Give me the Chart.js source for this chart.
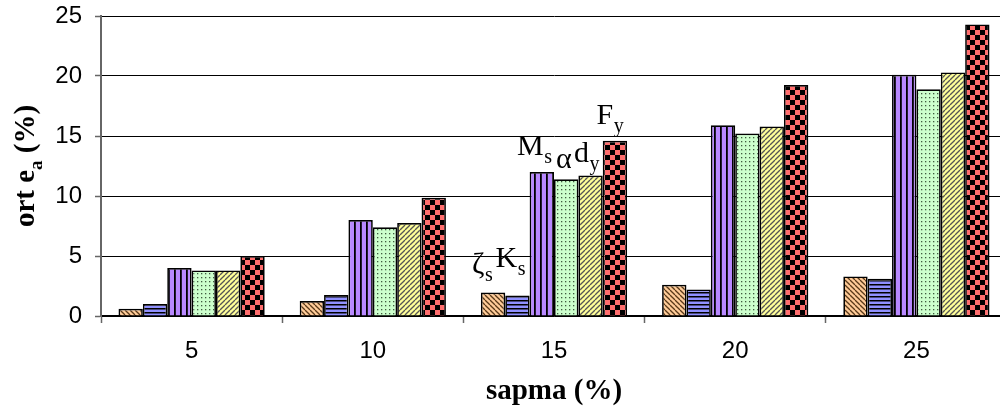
<!DOCTYPE html>
<html>
<head>
<meta charset="utf-8">
<script src="https://cdn.jsdelivr.net/npm/chart.js@4.4.1/dist/chart.umd.min.js"></script>
<style>
  html, body { margin: 0; padding: 0; background: #fff; overflow: hidden; }
  #wrap { width: 1008px; height: 414px; position: relative; }
</style>
</head>
<body>
<div id="wrap"><canvas id="c"></canvas></div>
<script>
// ---- data ----
const categories = ['5', '10', '15', '20', '25'];
const seriesNames = ['ζs', 'Ks', 'Ms', 'α', 'dy', 'Fy'];
const zetaS = [0.6, 1.25, 1.95, 2.6, 3.3];
const kS    = [1.0, 1.75, 1.7, 2.2, 3.1];
const mS    = [4.0, 8.0, 12.0, 15.9, 20.1];
const alpha = [3.8, 7.4, 11.4, 15.2, 18.9];
const dY    = [3.8, 7.75, 11.7, 15.8, 20.3];
const fY    = [5.0, 9.85, 14.6, 19.25, 24.3];
const yTicks = [0, 5, 10, 15, 20, 25];

// annotation labels near the 15 % group: main text, subscript, category, dx from category centre (px), y value of baseline
const noteMain = ['ζ', 'K', 'M', 'α', 'd', 'F'];
const noteSub  = ['s', 's', 's', '', 'y', 'y'];
const noteCat  = ['15', '15', '15', '15', '15', '15'];
const noteDx   = [-82, -58.5, -37, 2, 20, 42.5];
const noteY    = [3.58, 4.08, 13.42, 12.3, 12.83, 16.0];

// ---- patterns ----
function tile(size, bg, draw) {
  const c = document.createElement('canvas');
  c.width = size; c.height = size;
  const g = c.getContext('2d');
  g.fillStyle = bg; g.fillRect(0, 0, size, size);
  draw(g, size);
  return g.createPattern(c, 'repeat');
}
function diag(g, s, color, dir) {
  g.strokeStyle = color; g.lineWidth = 1.3;
  for (let k = -s; k <= s; k += s) {
    g.beginPath();
    if (dir > 0) { g.moveTo(k, s); g.lineTo(k + s, 0); }
    else { g.moveTo(k, 0); g.lineTo(k + s, s); }
    g.stroke();
  }
}
const patterns = [
  tile(5, '#FFCC99', (g, s) => diag(g, s, '#5a3a1a', -1)),
  tile(4, '#9090FF', (g, s) => { g.fillStyle = '#000'; g.fillRect(0, 0, s, 1.5); }),
  tile(6, '#B888FF', (g, s) => { g.fillStyle = '#000'; g.fillRect(0, 0, 1.8, s); }),
  tile(4, '#CCFFCC', (g, s) => { g.fillStyle = '#3f5a3f'; g.fillRect(1, 1, 1.3, 1.3); }),
  tile(5, '#FFFF99', (g, s) => diag(g, s, '#555', 1)),
  tile(10, '#FF6E6E', (g, s) => { g.fillStyle = '#000'; g.fillRect(0, 0, 5, 5); g.fillRect(5, 5, 5, 5); })
];

const seriesValues = [zetaS, kS, mS, alpha, dY, fY];

const notesPlugin = {
  id: 'notes',
  afterDatasetsDraw(chart) {
    const ctx = chart.ctx, xs = chart.scales.x, ys = chart.scales.y;
    ctx.save();
    ctx.fillStyle = '#000';
    ctx.textBaseline = 'alphabetic';
    ctx.textAlign = 'left';
    for (let i = 0; i < noteMain.length; i++) {
      const x = xs.getPixelForValue(categories.indexOf(noteCat[i])) + noteDx[i];
      const y = ys.getPixelForValue(noteY[i]);
      ctx.font = '30px "Liberation Serif", "Times New Roman", serif';
      ctx.fillText(noteMain[i], x, y);
      const w = ctx.measureText(noteMain[i]).width;
      if (noteSub[i]) {
        ctx.font = '20px "Liberation Serif", "Times New Roman", serif';
        ctx.fillText(noteSub[i], x + w + 0.5, y + 8);
      }
    }
    ctx.restore();
  }
};

const yTitlePlugin = {
  id: 'ytitle',
  afterDraw(chart) {
    const ctx = chart.ctx, ca = chart.chartArea;
    const parts = [['ort e', 29, 0], ['a', 19, 7], [' (%)', 29, 0]];
    ctx.save();
    let total = 0;
    parts.forEach(p => { ctx.font = 'bold ' + p[1] + 'px "Liberation Serif", serif'; p.push(ctx.measureText(p[0]).width); total += p[3]; });
    ctx.translate(27, (ca.top + ca.bottom) / 2);
    ctx.rotate(-Math.PI / 2);
    ctx.fillStyle = '#000';
    ctx.textBaseline = 'middle';
    ctx.textAlign = 'left';
    let x = -total / 2;
    parts.forEach(p => {
      ctx.font = 'bold ' + p[1] + 'px "Liberation Serif", serif';
      ctx.fillText(p[0], x, p[2] + (p[1] < 29 ? 3 : 0));
      x += p[3];
    });
    ctx.restore();
  }
};

new Chart(document.getElementById('c'), {
  type: 'bar',
  data: {
    labels: categories,
    datasets: seriesValues.map((vals, i) => ({
      label: seriesNames[i],
      data: vals,
      backgroundColor: patterns[i],
      borderColor: '#000',
      borderWidth: 1.7,
      categoryPercentage: 0.807,
      barPercentage: 1.0
    }))
  },
  options: {
    responsive: true,
    maintainAspectRatio: false,
    animation: false,
    layout: { padding: { top: 16, right: 1, left: 0, bottom: 0 } },
    plugins: { legend: { display: false }, tooltip: { enabled: false } },
    scales: {
      x: {
        offset: true,
        grid: { display: true, offset: true, drawOnChartArea: false, drawTicks: true, tickLength: 7, tickColor: '#666', tickWidth: 1.5 },
        border: { display: true, color: '#000', width: 1.5 },
        ticks: { color: '#000', font: { family: '"Liberation Sans", Arial, sans-serif', size: 24 }, padding: 14 },
        title: { display: true, text: 'sapma (%)', color: '#000', font: { family: '"Liberation Serif", "Times New Roman", serif', size: 29, weight: 'bold' }, padding: { top: 0, bottom: 5 } },
        afterFit: s => { s.height = 98; s.paddingLeft = 0; s.paddingRight = 0; }
      },
      y: {
        min: 0, max: 25,
        afterBuildTicks: s => { s.ticks = yTicks.map(v => ({ value: v })); },
        grid: { color: '#000', lineWidth: 1, tickLength: 6, tickColor: '#666', tickWidth: 1.5 },
        border: { display: true, color: '#666', width: 2 },
        ticks: { color: '#000', font: { family: '"Liberation Sans", Arial, sans-serif', size: 24 }, padding: 13 },
        afterFit: s => { s.width = 101; s.paddingTop = 0; s.paddingBottom = 0; }
      }
    }
  },
  plugins: [notesPlugin, yTitlePlugin]
});
</script>
</body>
</html>
